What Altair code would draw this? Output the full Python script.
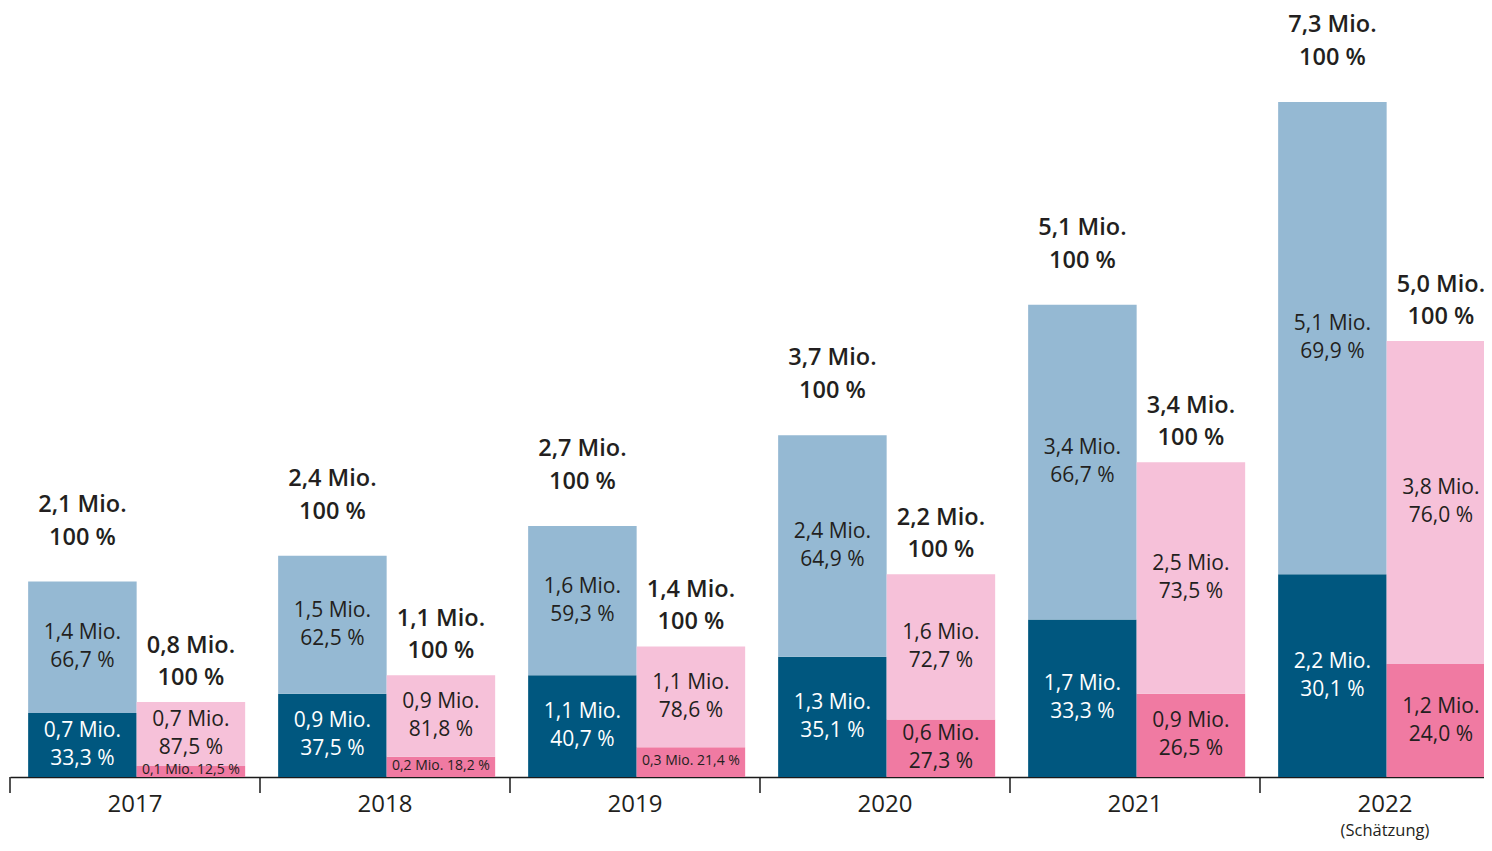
import altair as alt
import pandas as pd

years = ["2017", "2018", "2019", "2020", "2021", "2022"]

# bar heights in Mio. as drawn in the picture
blue_dark = [0.69, 0.90, 1.10, 1.30, 1.70, 2.19]
blue_total = [2.11, 2.39, 2.71, 3.69, 5.10, 7.29]
pink_dark = [0.12, 0.22, 0.32, 0.62, 0.90, 1.22]
pink_total = [0.81, 1.10, 1.41, 2.19, 3.40, 4.71]

# label texts
blue_dark_l1 = ["0,7 Mio.", "0,9 Mio.", "1,1 Mio.", "1,3 Mio.", "1,7 Mio.", "2,2 Mio."]
blue_dark_l2 = ["33,3 %", "37,5 %", "40,7 %", "35,1 %", "33,3 %", "30,1 %"]
blue_light_l1 = ["1,4 Mio.", "1,5 Mio.", "1,6 Mio.", "2,4 Mio.", "3,4 Mio.", "5,1 Mio."]
blue_light_l2 = ["66,7 %", "62,5 %", "59,3 %", "64,9 %", "66,7 %", "69,9 %"]
blue_total_l1 = ["2,1 Mio.", "2,4 Mio.", "2,7 Mio.", "3,7 Mio.", "5,1 Mio.", "7,3 Mio."]
pink_dark_l1 = ["0,1 Mio.", "0,2 Mio.", "0,3 Mio.", "0,6 Mio.", "0,9 Mio.", "1,2 Mio."]
pink_dark_l2 = ["12,5 %", "18,2 %", "21,4 %", "27,3 %", "26,5 %", "24,0 %"]
pink_light_l1 = ["0,7 Mio.", "0,9 Mio.", "1,1 Mio.", "1,6 Mio.", "2,5 Mio.", "3,8 Mio."]
pink_light_l2 = ["87,5 %", "81,8 %", "78,6 %", "72,7 %", "73,5 %", "76,0 %"]
pink_total_l1 = ["0,8 Mio.", "1,1 Mio.", "1,4 Mio.", "2,2 Mio.", "3,4 Mio.", "5,0 Mio."]
small_pink = [True, True, True, False, False, False]
note_text = "(Schätzung)"

DARK_TEXT = "#231f20"
seg_domain = ["A_dark", "A_light", "B_dark", "B_light"]
seg_range = ["#00577f", "#95b9d3", "#f07aa2", "#f6c1d9"]

rows = []
for i, yr in enumerate(years):
    rows.append(dict(year=yr, grp="A", seg="A_dark", y0=0, y1=blue_dark[i],
                     l1=blue_dark_l1[i], l2=blue_dark_l2[i], small=False, tc="white"))
    rows.append(dict(year=yr, grp="A", seg="A_light", y0=blue_dark[i], y1=blue_total[i],
                     l1=blue_light_l1[i], l2=blue_light_l2[i], small=False, tc=DARK_TEXT))
    rows.append(dict(year=yr, grp="B", seg="B_dark", y0=0, y1=pink_dark[i],
                     l1=pink_dark_l1[i], l2=pink_dark_l2[i], small=small_pink[i], tc=DARK_TEXT))
    rows.append(dict(year=yr, grp="B", seg="B_light", y0=pink_dark[i], y1=pink_total[i],
                     l1=pink_light_l1[i], l2=pink_light_l2[i], small=False, tc=DARK_TEXT))
seg = pd.DataFrame(rows)
seg["mid"] = (seg["y0"] + seg["y1"]) / 2
seg["one"] = seg["l1"] + " " + seg["l2"]

tot_rows = []
for i, yr in enumerate(years):
    tot_rows.append(dict(year=yr, grp="A", top=blue_total[i], t1=blue_total_l1[i], t2="100 %"))
    tot_rows.append(dict(year=yr, grp="B", top=pink_total[i], t1=pink_total_l1[i], t2="100 %"))
tot = pd.DataFrame(tot_rows)

FONT = "Open Sans"
xs = alt.Scale(domain=years, range=[0, 1500], paddingInner=0, paddingOuter=0)
xo = alt.Scale(domain=["A", "B"], paddingInner=0, paddingOuter=0.152, align=0.55)
ys = alt.Scale(domain=[0, 8.305], nice=False, zero=True)

xaxis = alt.Axis(title=None, ticks=False, tickSize=0, domain=True, domainColor="#1a1a1a",
                 domainWidth=1.5, labelFont=FONT, labelFontSize=24, labelColor=DARK_TEXT,
                 labelAngle=0, labelBaseline="alphabetic", labelPadding=34, grid=False)
X = alt.X("year:N", scale=xs, sort=years, axis=xaxis)
XO = alt.XOffset("grp:N", scale=xo)

base = alt.Chart(seg)

bars = base.mark_bar(cornerRadius=0).encode(
    x=X, xOffset=XO,
    y=alt.Y("y0:Q", scale=ys, axis=None), y2="y1:Q",
    color=alt.Color("seg:N", scale=alt.Scale(domain=seg_domain, range=seg_range), legend=None),
)

big = base.transform_filter("!datum.small")
line1 = big.mark_text(font=FONT, fontSize=21, dy=-14, baseline="middle").encode(
    x=X, xOffset=XO, y=alt.Y("mid:Q", scale=ys, axis=None), text="l1:N",
    color=alt.Color("tc:N", scale=None))
line2 = big.mark_text(font=FONT, fontSize=21, dy=14, baseline="middle").encode(
    x=X, xOffset=XO, y=alt.Y("mid:Q", scale=ys, axis=None), text="l2:N",
    color=alt.Color("tc:N", scale=None))
small = base.transform_filter("datum.small").mark_text(
    font=FONT, fontSize=14, baseline="middle", color=DARK_TEXT, dy=-1).encode(
    x=X, xOffset=XO, y=alt.Y("mid:Q", scale=ys, axis=None), text="one:N")

tb = alt.Chart(tot)
def total_layer(grp, field, dy):
    return tb.transform_filter(f"datum.grp == '{grp}'").mark_text(
        font=FONT, fontSize=23.5, fontWeight=600, dy=dy, baseline="middle", color=DARK_TEXT).encode(
        x=X, xOffset=XO, y=alt.Y("top:Q", scale=ys, axis=None), text=f"{field}:N")

totA1 = total_layer("A", "t1", -77)
totA2 = total_layer("A", "t2", -44)
totB1 = total_layer("B", "t1", -56)
totB2 = total_layer("B", "t2", -24)

yr_df = pd.DataFrame({"year": years})
ticks = alt.Chart(yr_df).mark_rule(color="#1a1a1a", strokeWidth=1.5).encode(
    x=alt.X("year:N", scale=xs, sort=years, bandPosition=0, axis=xaxis),
    y=alt.value(769), y2=alt.value(785))

note = alt.Chart(pd.DataFrame({"year": [years[-1]], "t": [note_text]})).mark_text(
    font=FONT, fontSize=16.5, color=DARK_TEXT, baseline="middle").encode(
    x=X, y=alt.value(823), text="t:N")

chart = alt.layer(bars, line1, line2, small, totA1, totA2, totB1, totB2, ticks, note).properties(
    width=1474, height=769,
    autosize=alt.AutoSizeParams(type="none"),
    padding={"left": 2, "top": 0, "right": 0, "bottom": 66},
    background="white",
).configure_view(stroke=None)

chart.save("out.html", embed_options={"renderer": "svg", "actions": False})
